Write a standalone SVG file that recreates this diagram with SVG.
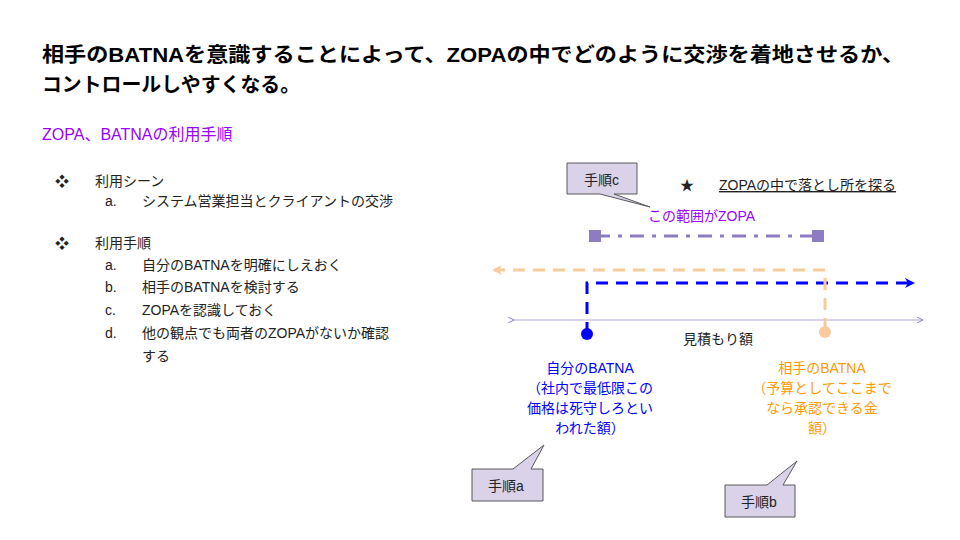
<svg xmlns="http://www.w3.org/2000/svg" width="960" height="540" viewBox="0 0 960 540">
<style>
text{font-family:"Liberation Sans","Noto Sans CJK JP",sans-serif}
.t{font-size:14px;fill:#222}
.call{fill:#d9d2e9;stroke:#595959;stroke-width:1}
</style>
<defs>
<marker id="ab" markerWidth="10" markerHeight="10" refX="8" refY="5" orient="auto" markerUnits="userSpaceOnUse"><path d="M0,0 L10,5 L0,10 L3,5 Z" fill="#0000ff"/></marker>
<marker id="ao" markerWidth="10" markerHeight="10" refX="8" refY="5" orient="auto" markerUnits="userSpaceOnUse"><path d="M0,0 L10,5 L0,10 L3,5 Z" fill="#f9cb9c"/></marker>
<marker id="ap" markerWidth="6" markerHeight="6" refX="5" refY="3" orient="auto" markerUnits="userSpaceOnUse"><path d="M0,0 L6,3 L0,6" fill="none" stroke="#8e7cc3"/></marker>
</defs>
<rect width="960" height="540" fill="#fff"/>
<g id="title">
<text x="42" y="62" font-size="20" font-weight="bold" fill="#000" textLength="862" lengthAdjust="spacingAndGlyphs">相手のBATNAを意識することによって、ZOPAの中でどのように交渉を着地させるか、</text>
<text x="42" y="92" font-size="20" font-weight="bold" fill="#000" textLength="258" lengthAdjust="spacingAndGlyphs">コントロールしやすくなる。</text>
<text x="42" y="140" font-size="16" fill="#9900ff">ZOPA、BATNAの利用手順</text>
</g>
<g id="list">
<text x="55" y="186" class="t">❖</text><text x="95" y="186" class="t">利用シーン</text>
<text x="105" y="206" class="t">a.</text><text x="142" y="206" class="t">システム営業担当とクライアントの交渉</text>
<text x="55" y="248" class="t">❖</text><text x="95" y="248" class="t">利用手順</text>
<text x="105" y="270" class="t" font-size="12">a.</text><text x="142" y="270" class="t">自分のBATNAを明確にしえおく</text>
<text x="105" y="292" class="t" font-size="12">b.</text><text x="142" y="292" class="t">相手のBATNAを検討する</text>
<text x="105" y="315" class="t" font-size="12">c.</text><text x="142" y="315" class="t">ZOPAを認識しておく</text>
<text x="105" y="338" class="t" font-size="12">d.</text><text x="142" y="338" class="t">他の観点でも両者のZOPAがないか確認</text>
<text x="142" y="361" class="t">する</text>
</g>
<g id="connectors">
<line x1="513" y1="320" x2="922" y2="320" stroke="#b4a7d6" stroke-width="1" marker-end="url(#ap)" marker-start="url(#ap)"/>
<polyline points="587,334 587,283 913,283" fill="none" stroke="#0000ff" stroke-width="3" stroke-dasharray="12,8" marker-end="url(#ab)"/>
<polyline points="825,330 825,270 494,270" fill="none" stroke="#f9cb9c" stroke-width="3" stroke-dasharray="12,8" marker-end="url(#ao)"/>
<line x1="596" y1="236" x2="818" y2="236" stroke="#8e7cc3" stroke-width="3" stroke-dasharray="14,8,4,8"/>
<rect x="589" y="230" width="12" height="12" fill="#8e7cc3"/>
<rect x="812" y="230" width="12" height="12" fill="#8e7cc3"/>
<circle cx="587" cy="334" r="6" fill="#0000ff"/>
<circle cx="825" cy="332" r="6" fill="#f9cb9c"/>
</g>
<g id="axis-label"><text x="683" y="344" class="t">見積もり額</text></g>
<g id="zopa-label"><text x="648" y="221" font-size="14" fill="#9900ff">この範囲がZOPA</text></g>
<g id="star"><text x="680" y="190" class="t">★</text><text x="719" y="190" class="t" text-decoration="underline">ZOPAの中で落とし所を探る</text></g>
<g id="own" font-size="14" text-anchor="middle">
<text x="590" y="373" fill="#0000ff">自分のBATNA</text>
<text x="590" y="393" fill="#0000ff">（社内で最低限この</text>
<text x="590" y="413" fill="#0000ff">価格は死守しろとい</text>
<text x="590" y="433" fill="#0000ff">われた額）</text>
</g>
<g id="other" font-size="14" text-anchor="middle">
<text x="822" y="373" fill="#ff9900">相手のBATNA</text>
<text x="822" y="393" fill="#ff9900">（予算としてここまで</text>
<text x="822" y="413" fill="#ff9900">なら承認できる金</text>
<text x="822" y="433" fill="#ff9900">額）</text>
</g>
<g id="stepc"><path class="call" d="M567,163 H637 V194 H614 L650,207 L600,194 H567 Z"/><text x="584" y="185" class="t">手順c</text></g>
<g id="stepa"><path class="call" d="M472,469 H513 L544,445 L531,469 H543 V501 H472 Z"/><text x="488" y="491" class="t">手順a</text></g>
<g id="stepb"><path class="call" d="M725,485 H767 L797,461 L783,485 H795 V517 H725 Z"/><text x="741" y="507" class="t">手順b</text></g>
</svg>
